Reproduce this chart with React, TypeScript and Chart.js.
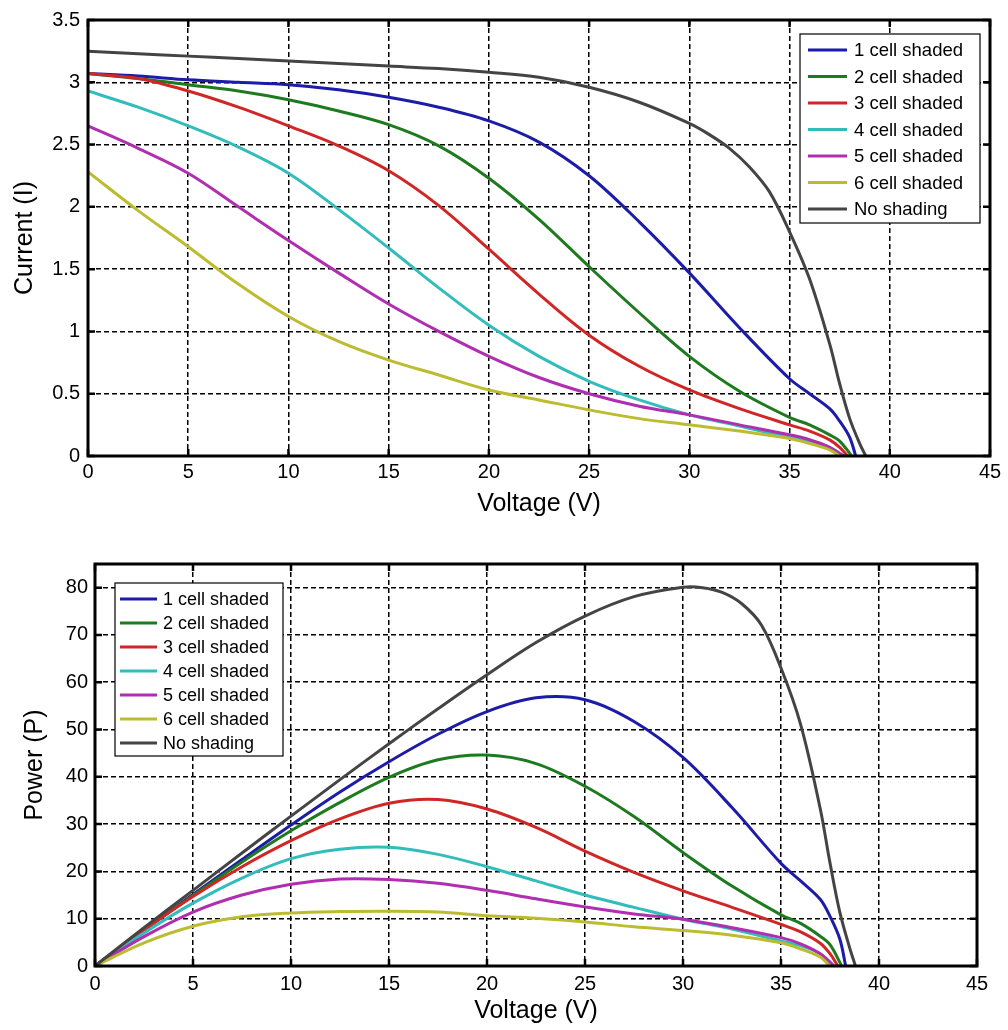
import React, { useEffect, useRef } from 'react';
import { Chart, registerables } from 'chart.js';

Chart.register(...registerables);

// ---------- Data ----------
const seriesLabels = ['1 cell shaded', '2 cell shaded', '3 cell shaded', '4 cell shaded', '5 cell shaded', '6 cell shaded', 'No shading'];
const seriesColors = ['#1c1ca8', '#1e7a1e', '#d02626', '#33bcbc', '#b02eb0', '#bcbc30', '#444444'];

const xTicks = [0, 5, 10, 15, 20, 25, 30, 35, 40, 45];
const currentTicks = [0, 0.5, 1, 1.5, 2, 2.5, 3, 3.5];
const powerTicks = [0, 10, 20, 30, 40, 50, 60, 70, 80];

// Voltage samples of each curve (V)
const v1 = [0, 2.5, 5, 7.5, 10, 12.5, 15, 17.5, 20, 22.5, 25, 27.5, 30, 32.5, 35, 36, 37, 37.5, 38, 38.3];
const v2 = [0, 2.5, 5, 7.5, 10, 12.5, 15, 17.5, 20, 22.5, 25, 27.5, 30, 32.5, 35, 36, 37, 37.5, 38.1];
const v3 = [0, 2.5, 5, 7.5, 10, 12.5, 15, 17.5, 20, 22.5, 25, 27.5, 30, 32.5, 35, 36, 37, 37.5, 37.9];
const v4 = [0, 2.5, 5, 7.5, 10, 12.5, 15, 17.5, 20, 22.5, 25, 27.5, 30, 32.5, 35, 36, 37, 37.7];
const v5 = [0, 2.5, 5, 7.5, 10, 12.5, 15, 17.5, 20, 22.5, 25, 27.5, 30, 32.5, 35, 36, 37, 37.7];
const v6 = [0, 2.5, 5, 7.5, 10, 12.5, 15, 17.5, 20, 22.5, 25, 27.5, 30, 32.5, 35, 36, 37, 37.5];
const v0 = [0, 2.5, 5, 7.5, 10, 12.5, 15, 17.5, 20, 22.5, 25, 27.5, 30, 31, 32, 33, 34, 35, 36, 37, 37.5, 38, 38.5, 38.8];

// Current (A)
const i1 = [3.07, 3.05, 3.02, 3.0, 2.98, 2.94, 2.88, 2.8, 2.69, 2.52, 2.25, 1.88, 1.47, 1.03, 0.62, 0.5, 0.38, 0.28, 0.15, 0];
const i2 = [3.07, 3.03, 2.98, 2.93, 2.86, 2.77, 2.66, 2.49, 2.23, 1.9, 1.52, 1.15, 0.8, 0.52, 0.31, 0.25, 0.17, 0.12, 0];
const i3 = [3.07, 3.03, 2.93, 2.8, 2.65, 2.49, 2.29, 2.01, 1.66, 1.3, 0.97, 0.72, 0.53, 0.38, 0.25, 0.2, 0.13, 0.07, 0];
const i4 = [2.93, 2.8, 2.65, 2.48, 2.27, 1.98, 1.67, 1.35, 1.05, 0.8, 0.6, 0.45, 0.33, 0.24, 0.15, 0.12, 0.07, 0];
const i5 = [2.65, 2.47, 2.27, 2.0, 1.73, 1.47, 1.22, 1.0, 0.8, 0.63, 0.5, 0.4, 0.33, 0.25, 0.17, 0.13, 0.07, 0];
const i6 = [2.28, 1.97, 1.68, 1.38, 1.12, 0.92, 0.77, 0.65, 0.53, 0.45, 0.37, 0.3, 0.25, 0.2, 0.14, 0.1, 0.05, 0];
const i0 = [3.25, 3.23, 3.21, 3.19, 3.17, 3.15, 3.13, 3.11, 3.08, 3.04, 2.96, 2.84, 2.67, 2.58, 2.47, 2.32, 2.12, 1.8, 1.42, 0.9, 0.58, 0.3, 0.1, 0];

// Power (W)
const p1 = [0, 7.6, 15.1, 22.5, 29.8, 36.8, 43.2, 49.0, 53.8, 56.7, 56.3, 51.7, 44.1, 33.5, 21.7, 18.0, 14.1, 10.5, 5.7, 0];
const p2 = [0, 7.6, 14.9, 22.0, 28.6, 34.6, 39.9, 43.6, 44.6, 42.8, 38.0, 31.6, 24.0, 16.9, 10.8, 9.0, 6.3, 4.5, 0];
const p3 = [0, 7.6, 14.7, 21.0, 26.5, 31.1, 34.4, 35.2, 33.2, 29.3, 24.3, 19.8, 15.9, 12.4, 8.8, 7.2, 4.8, 2.6, 0];
const p4 = [0, 7.0, 13.3, 18.6, 22.7, 24.7, 25.1, 23.6, 21.0, 18.0, 15.0, 12.4, 9.9, 7.8, 5.3, 4.3, 2.6, 0];
const p5 = [0, 6.2, 11.4, 15.0, 17.3, 18.4, 18.3, 17.5, 16.0, 14.2, 12.5, 11.0, 9.9, 8.1, 6.0, 4.7, 2.6, 0];
const p6 = [0, 4.9, 8.4, 10.4, 11.2, 11.5, 11.6, 11.4, 10.6, 10.1, 9.3, 8.3, 7.5, 6.5, 4.9, 3.6, 1.9, 0];
const p0 = [0, 8.1, 16.0, 23.9, 31.7, 39.4, 47.0, 54.4, 61.6, 68.4, 74.0, 78.1, 80.1, 80.0, 79.0, 76.6, 72.1, 63.0, 51.1, 33.3, 21.8, 11.4, 3.9, 0];

const voltages = [v1, v2, v3, v4, v5, v6, v0];
const currents = [i1, i2, i3, i4, i5, i6, i0];
const powers = [p1, p2, p3, p4, p5, p6, p0];

const FONT = '"Liberation Sans", Arial, Helvetica, sans-serif';

function buildDatasets(ys: number[][]) {
  return ys.map((arr, s) => ({
    label: seriesLabels[s],
    data: arr.map((y, k) => ({ x: voltages[s][k], y })),
    borderColor: seriesColors[s],
    backgroundColor: seriesColors[s],
    borderWidth: 3,
    pointRadius: 0,
    fill: false,
    tension: 0.35,
    order: 6 - s,
  }));
}

const framePlugin = {
  id: 'frame',
  afterDatasetsDraw(chart: any) {
    const { ctx, chartArea: a, scales } = chart;
    ctx.save();
    ctx.strokeStyle = '#000';
    ctx.setLineDash([]);
    ctx.lineWidth = 2.5;
    const L = 7;
    ctx.beginPath();
    scales.x.ticks.forEach((t: any) => {
      const px = scales.x.getPixelForValue(t.value);
      ctx.moveTo(px, a.bottom); ctx.lineTo(px, a.bottom - L);
      ctx.moveTo(px, a.top); ctx.lineTo(px, a.top + L);
    });
    scales.y.ticks.forEach((t: any) => {
      const py = scales.y.getPixelForValue(t.value);
      ctx.moveTo(a.left, py); ctx.lineTo(a.left + L, py);
      ctx.moveTo(a.right, py); ctx.lineTo(a.right - L, py);
    });
    ctx.stroke();
    ctx.lineWidth = 3;
    ctx.strokeRect(a.left, a.top, a.right - a.left, a.bottom - a.top);
    ctx.restore();
  },
};

const boxLegendPlugin = {
  id: 'boxLegend',
  afterDraw(chart: any, _args: any, opts: any) {
    const { ctx, chartArea: a } = chart;
    const x0 = opts.anchor === 'right' ? a.right - opts.dx - opts.w : a.left + opts.dx;
    const y0 = a.top + opts.dy;
    ctx.save();
    ctx.setLineDash([]);
    ctx.fillStyle = '#fff';
    ctx.fillRect(x0, y0, opts.w, opts.h);
    ctx.strokeStyle = '#000';
    ctx.lineWidth = 1.2;
    ctx.strokeRect(x0, y0, opts.w, opts.h);
    ctx.font = `${opts.fontSize}px ${FONT}`;
    ctx.textBaseline = 'middle';
    ctx.textAlign = 'left';
    chart.data.datasets.forEach((ds: any, k: number) => {
      const cy = y0 + opts.first + k * opts.row;
      ctx.strokeStyle = ds.borderColor;
      ctx.lineWidth = 3;
      ctx.beginPath();
      ctx.moveTo(x0 + opts.lineStart, cy);
      ctx.lineTo(x0 + opts.lineEnd, cy);
      ctx.stroke();
      ctx.fillStyle = '#000';
      ctx.fillText(ds.label, x0 + opts.textX, cy + 1);
    });
    ctx.restore();
  },
};

const fmt = (v: any) => String(Number(v));

function makeConfig(kind: 'current' | 'power') {
  const isCur = kind === 'current';
  const yTickVals = isCur ? currentTicks : powerTicks;
  return {
    type: 'line' as const,
    data: { datasets: buildDatasets(isCur ? currents : powers) },
    options: {
      animation: false as const,
      responsive: false,
      devicePixelRatio: 1,
      layout: { padding: isCur ? { top: 19, right: 18, left: 0, bottom: 0 } : { top: 34, right: 31, left: 0, bottom: 0 } },
      plugins: {
        legend: { display: false },
        tooltip: { enabled: false },
        boxLegend: isCur
          ? { anchor: 'right', dx: 10, dy: 14, w: 180, h: 189, first: 16, row: 26.5, lineStart: 8, lineEnd: 47, textX: 54, fontSize: 18.5 }
          : { anchor: 'left', dx: 20, dy: 19, w: 168, h: 173, first: 16, row: 24, lineStart: 5, lineEnd: 42, textX: 48, fontSize: 18 },
      },
      scales: {
        x: {
          type: 'linear' as const,
          min: xTicks[0],
          max: xTicks[xTicks.length - 1],
          afterBuildTicks: (s: any) => { s.ticks = xTicks.map((v) => ({ value: v })); },
          ticks: { color: '#000', font: { size: 20, family: FONT }, padding: isCur ? 4 : 6, maxRotation: 0, autoSkip: false, callback: fmt },
          grid: { color: '#000', lineWidth: 1.5, drawTicks: false },
          border: { display: false, dash: [5, 3] },
          title: { display: true, text: 'Voltage (V)', color: '#000', font: { size: 25, family: FONT }, padding: { top: 0, bottom: isCur ? 11 : 4 } },
          afterFit: (s: any) => { s.height = isCur ? 74 : 64; },
        },
        y: {
          type: 'linear' as const,
          min: 0,
          max: isCur ? 3.5 : 85,
          afterBuildTicks: (s: any) => { s.ticks = yTickVals.map((v) => ({ value: v })); },
          ticks: { color: '#000', font: { size: 20, family: FONT }, padding: isCur ? 8 : 7, autoSkip: false, callback: fmt },
          grid: { color: '#000', lineWidth: 1.5, drawTicks: false },
          border: { display: false, dash: [5, 3] },
          title: { display: true, text: isCur ? 'Current (I)' : 'Power (P)', color: '#000', font: { size: 25, family: FONT }, padding: { top: isCur ? 10 : 20, bottom: 0 } },
          afterFit: (s: any) => { s.width = isCur ? 88 : 95; },
        },
      },
    },
    plugins: [framePlugin, boxLegendPlugin],
  };
}

function ChartCanvas({ kind, height }: { kind: 'current' | 'power'; height: number }) {
  const ref = useRef<HTMLCanvasElement | null>(null);
  useEffect(() => {
    if (!ref.current) return;
    const chart = new Chart(ref.current, makeConfig(kind) as any);
    return () => chart.destroy();
  }, [kind]);
  return <canvas ref={ref} width={1008} height={height} style={{ display: 'block', width: 1008, height }} />;
}

export default function App() {
  return (
    <div style={{ position: 'absolute', left: 0, top: 0, width: 1008, height: 1030, background: '#fff' }}>
      <ChartCanvas kind="current" height={530} />
      <ChartCanvas kind="power" height={500} />
    </div>
  );
}
